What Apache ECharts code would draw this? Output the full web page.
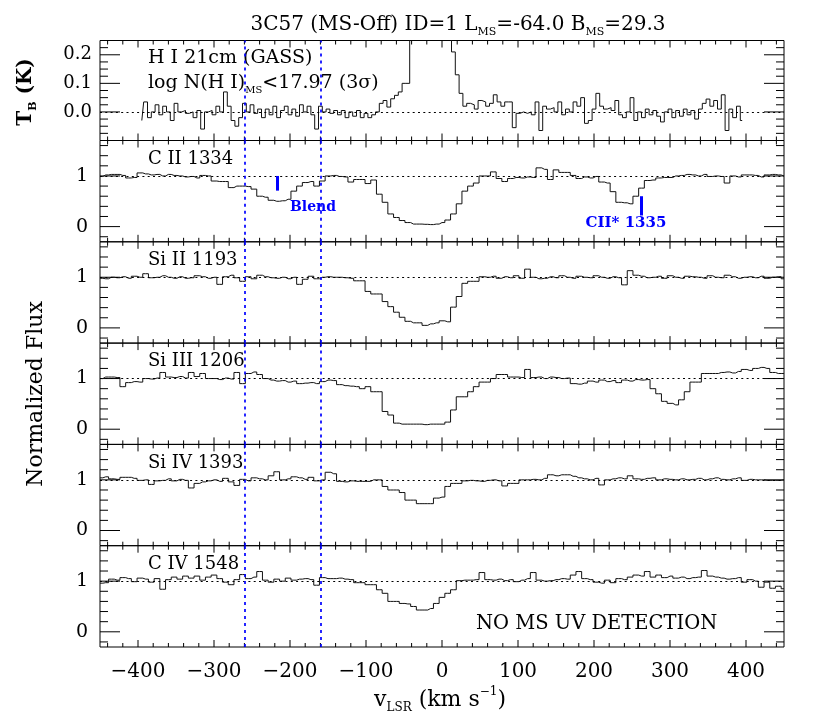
<!DOCTYPE html>
<html>
<head>
<meta charset="utf-8">
<script src="https://cdn.jsdelivr.net/npm/echarts@6/dist/echarts.min.js"></script>
<style>
  html, body { margin: 0; padding: 0; background: #fff; }
  #main { width: 830px; height: 727px; }
</style>
</head>
<body>
<div id="main"></div>
<script>
// ---- data ----
// HI 21cm brightness temperature (K), 5 km/s channels from -395 to 395
var hiStart = -395, hiStep = 5;
var hiTemp = [
  -0.03,0.035,-0.02,0.0,0.025,-0.01,0.02,0.0,-0.03,0.03, 0.0,0.005,-0.005,0.0,-0.02,0.005,-0.06,0.0,0.005,-0.01,
  0.02,0.0,0.07,0.02,-0.03,-0.05,-0.02,0.03,0.0,0.025, -0.005,0.01,-0.02,0.01,-0.01,0.02,-0.02,0.005,0.02,-0.01,
  0.01,-0.015,0.025,0.0,0.02,-0.01,-0.06,0.02,0.0,0.01, -0.005,0.005,-0.01,0.005,-0.02,0.0,-0.015,0.005,-0.02,-0.005,
  -0.02,-0.01,0.0,0.03,0.04,0.017,0.046,0.058,0.07,0.1, 0.1,0.45,0.8,1.2,1.5,1.7,1.8,1.6,1.3,1.0,
  0.7,0.4,0.21,0.13,0.065,0.02,0.03,0.025,0.01,0.04, 0.035,0.02,0.03,0.06,0.035,0.02,0.035,0.035,-0.055,-0.005,
  0.0,-0.005,0.0,-0.01,0.035,-0.065,0.02,0.01,0.015,0.0, 0.035,-0.01,0.01,0.0,0.035,0.02,0.05,-0.04,-0.03,0.01,
  0.065,0.02,0.01,0.015,0.005,0.04,-0.01,-0.02,0.0,0.05, -0.03,0.0,-0.02,0.01,-0.01,0.005,-0.015,-0.035,0.0,0.01,
  -0.02,0.005,-0.015,0.01,-0.01,0.005,-0.025,0.01,0.03,0.045, 0.02,0.04,0.01,0.06,-0.065,0.01,-0.02,0.02,-0.03
];

// UV normalized flux, 7.5 km/s pixels from -450 to 450
var uvStart = -450, uvStep = 7.5;
var fluxCII = [
  0.99,1.02,1.03,1.03,1.01,0.96,0.97,1.06,1.04,1.02, 1.03,1.0,1.03,1.01,1.0,0.98,0.99,0.96,1.01,1.0,
  0.90,0.89,0.89,0.77,0.80,0.80,0.79,0.74,0.60,0.58, 0.52,0.50,0.51,0.54,0.70,0.80,0.87,0.89,0.80,0.90,
  1.0,1.01,0.99,0.98,0.88,0.93,0.93,0.85,0.92,0.64, 0.48,0.25,0.18,0.12,0.08,0.05,0.05,0.045,0.04,0.05,
  0.08,0.13,0.25,0.45,0.7,0.8,0.86,1.0,1.0,1.08, 0.95,0.89,0.95,0.97,0.96,0.98,0.97,1.16,1.13,0.93,
  1.12,1.07,1.07,1.01,0.95,0.98,0.96,0.99,0.88,0.86, 0.69,0.48,0.47,0.45,0.60,0.76,0.91,0.92,0.96,0.97,
  0.97,1.0,1.01,1.03,1.02,1.0,1.03,0.99,1.0,0.99, 0.86,1.0,0.98,1.02,1.02,1.01,0.98,1.02,1.03,1.02, 1.0
];
var fluxSiII = [
  0.98,0.97,1.0,0.99,1.01,0.98,1.02,1.0,1.07,0.99, 1.0,1.03,1.0,0.98,1.01,0.98,0.99,1.03,1.01,0.98,
  1.0,0.86,1.01,1.04,0.99,0.92,1.01,0.97,1.04,1.01, 0.99,0.98,1.0,0.97,1.0,0.86,0.96,1.02,0.97,1.0,
  1.01,1.0,1.0,0.99,0.98,0.93,0.93,0.72,0.67,0.67, 0.52,0.42,0.31,0.21,0.13,0.1,0.1,0.05,0.08,0.1,
  0.14,0.12,0.41,0.62,0.88,0.92,0.92,1.01,1.0,1.02, 0.98,1.01,0.99,1.03,0.98,1.16,1.0,0.97,0.98,1.01,
  0.99,1.03,1.0,0.98,1.02,1.0,0.99,1.03,1.0,0.98, 1.01,0.99,0.85,1.13,1.04,1.02,0.99,1.0,1.02,0.98,
  1.03,1.0,0.98,1.02,1.01,1.0,0.98,1.03,1.0,0.99, 1.04,1.01,0.98,1.0,1.01,0.99,1.02,0.98,1.0,1.01, 0.97
];
var fluxSiIII = [
  1.0,1.03,1.03,1.02,0.84,0.92,0.94,0.93,1.0,0.99, 1.01,1.12,1.03,1.02,1.04,1.01,1.12,1.04,1.1,1.0,
  1.0,0.98,1.01,0.99,1.12,0.9,1.1,1.13,1.08,1.0, 0.97,0.95,0.96,0.93,0.95,0.9,0.91,0.92,0.9,0.94,
  0.97,0.96,0.88,0.86,0.85,0.84,0.8,0.84,0.74,0.74, 0.35,0.28,0.12,0.1,0.1,0.1,0.1,0.09,0.1,0.1,
  0.1,0.14,0.38,0.64,0.64,0.74,0.84,0.93,0.93,1.0, 1.08,1.08,1.03,1.03,1.02,1.18,1.02,1.03,1.0,1.03,
  1.02,1.0,1.01,0.9,0.89,0.91,0.95,0.93,0.97,0.94, 0.96,0.92,0.97,0.95,0.98,0.97,0.98,0.8,0.7,0.55,
  0.51,0.48,0.58,0.74,0.93,0.93,1.1,1.1,1.1,1.12, 1.13,1.11,1.14,1.18,1.16,1.2,1.22,1.2,1.12,1.1, 1.1
];
var fluxSiIV = [
  1.04,1.06,1.02,1.01,1.05,1.05,1.03,0.99,1.0,0.91, 0.98,0.99,1.02,0.98,1.01,0.99,0.84,0.93,0.96,0.98,
  1.0,0.97,1.03,0.96,0.89,1.01,0.98,1.04,1.02,1.0, 1.08,1.16,1.0,1.02,1.06,1.04,1.01,1.05,0.98,1.0,
  1.15,1.12,0.97,0.96,0.98,0.97,0.97,0.97,1.0,1.0, 0.87,0.8,0.8,0.75,0.6,0.6,0.53,0.53,0.53,0.64,
  0.66,0.87,0.93,0.93,0.98,0.99,0.98,0.97,0.99,1.0, 0.98,0.88,0.93,0.93,1.0,1.0,1.01,1.0,1.03,1.1,
  1.08,1.1,1.1,1.07,1.04,1.02,1.0,1.03,0.9,1.0, 1.02,1.04,1.02,1.08,1.02,1.01,1.03,1.04,1.0,1.02,
  1.01,1.0,1.02,1.0,1.01,1.03,1.0,1.02,1.04,1.01, 1.0,1.02,1.04,0.99,1.01,1.0,1.0,0.99,0.99,0.99, 1.0
];
var fluxCIV = [
  0.96,0.97,1.04,1.02,1.07,1.05,0.99,1.06,1.04,0.98, 1.05,0.84,1.03,1.08,1.04,1.1,1.06,1.1,1.02,1.08,
  1.12,1.05,0.98,0.93,1.03,1.13,1.05,1.08,1.19,1.02, 0.98,1.04,1.0,1.06,1.02,1.04,1.05,1.03,0.92,1.07,
  1.05,1.05,1.06,1.04,1.03,0.97,0.97,0.93,0.93,0.83, 0.76,0.6,0.6,0.56,0.55,0.5,0.43,0.43,0.46,0.56,
  0.68,0.76,0.83,1.01,1.02,1.02,1.03,1.17,1.03,1.02, 1.04,1.01,1.03,0.99,1.02,1.05,1.17,1.02,1.0,1.01,
  1.03,1.05,1.04,1.12,1.19,1.05,1.03,0.98,0.96,1.02, 0.97,1.05,1.03,1.08,1.12,1.1,1.19,1.08,1.12,1.07,
  1.1,1.06,1.08,1.05,1.07,1.08,1.21,1.1,1.08,1.06, 1.04,1.05,1.07,0.98,1.03,1.0,0.88,0.98,0.86,0.9, 0.85
];

var ionNames = ["C II 1334", "Si II 1193", "Si III 1206", "Si IV 1393", "C IV 1548"];
var ionFlux = [fluxCII, fluxSiII, fluxSiIII, fluxSiIV, fluxCIV];
var msVelocities = [-260, -160];          // blue dotted lines
var xTickLabels = [-400, -300, -200, -100, 0, 100, 200, 300, 400];
var hiTickLabels = [0.0, 0.1, 0.2];
var fluxTickLabels = [0, 1];

var FF = '"DejaVu Serif", serif';
var X_MIN = -450, X_MAX = 450;

function pairs(start, step, vals) {
  var out = [];
  for (var i = 0; i < vals.length; i++) out.push([start + step * i, vals[i]]);
  return out;
}

// panel geometry
var panels = [{ top: 40.5, height: 100, yMin: -0.1, yMax: 0.25 }];
for (var k = 0; k < 5; k++) panels.push({ top: 140.5 + 101.3 * k, height: 101.3, yMin: -0.3, yMax: 1.7 });

// tick marks (drawn inward on all four sides)
function tickData(p, isHI) {
  var d = [];
  for (var v = -440; v <= 440; v += 20) d.push([0, v, v % 100 === 0 ? 1 : 0]);
  if (isHI) {
    for (var k = -3; k <= 9; k++) d.push([1, k * 0.025, k % 4 === 0 ? 1 : 0]);
  } else {
    for (var j = -1; j <= 8; j++) d.push([1, j * 0.2, (j === 0 || j === 5) ? 1 : 0]);
  }
  return d;
}

function tickRender(p) {
  return function (params, api) {
    var kind = api.value(0), v = api.value(1), major = api.value(2);
    var st = { stroke: '#000', lineWidth: 1 };
    var a, b, len;
    if (kind === 0) {
      a = api.coord([v, p.yMin]); b = api.coord([v, p.yMax]); len = major ? 7 : 4;
      return { type: 'group', children: [
        { type: 'line', shape: { x1: a[0], y1: a[1], x2: a[0], y2: a[1] - len }, style: st },
        { type: 'line', shape: { x1: b[0], y1: b[1], x2: b[0], y2: b[1] + len }, style: st }
      ]};
    }
    a = api.coord([X_MIN, v]); b = api.coord([X_MAX, v]); len = major ? 20 : 8;
    return { type: 'group', children: [
      { type: 'line', shape: { x1: a[0], y1: a[1], x2: a[0] + len, y2: a[1] }, style: st },
      { type: 'line', shape: { x1: b[0], y1: b[1], x2: b[0] - len, y2: b[1] }, style: st }
    ]};
  };
}

var grids = [], xAxes = [], yAxes = [], series = [];
var dotted = { color: '#000', width: 1, type: [2, 3.3] };
var blueDot = { color: '#0000ff', width: 1.7, type: [3, 4] };

panels.forEach(function (p, i) {
  var isHI = i === 0;
  grids.push({ left: 100, right: 46, top: p.top, height: p.height, show: true,
    borderColor: '#000', borderWidth: 1, backgroundColor: 'transparent' });
  xAxes.push({
    gridIndex: i, type: 'value', min: X_MIN, max: X_MAX, interval: 50,
    axisLine: { show: false }, axisTick: { show: false }, splitLine: { show: false },
    axisLabel: {
      show: i === panels.length - 1, margin: 15, color: '#000', fontFamily: FF, fontSize: 20,
      formatter: function (v) {
        if (xTickLabels.indexOf(v) < 0) return '';
        return v < 0 ? '\u2212' + (-v) : String(v);
      }
    }
  });
  yAxes.push({
    gridIndex: i, type: 'value', min: p.yMin, max: p.yMax, interval: isHI ? 0.05 : 0.1,
    axisLine: { show: false }, axisTick: { show: false }, splitLine: { show: false },
    axisLabel: {
      margin: isHI ? 8 : 12, color: '#000', fontFamily: FF, fontSize: isHI ? 18 : 19,
      showMinLabel: true, showMaxLabel: true,
      formatter: function (v) {
        var list = isHI ? hiTickLabels : fluxTickLabels;
        for (var n = 0; n < list.length; n++) {
          if (Math.abs(v - list[n]) < 1e-6) return isHI ? list[n].toFixed(1) : String(list[n]);
        }
        return '';
      }
    }
  });

  var mlData = [{ yAxis: isHI ? 0 : 1, lineStyle: dotted }];
  msVelocities.forEach(function (mv) { mlData.push({ xAxis: mv, lineStyle: blueDot }); });
  if (i === 1) {
    var bar = { color: '#0000ff', width: 3, type: 'solid' };
    mlData.push([{ coord: [-217, 0.71], lineStyle: bar }, { coord: [-217, 1.0], lineStyle: bar }]);
    mlData.push([{ coord: [262, 0.22], lineStyle: bar }, { coord: [262, 0.6], lineStyle: bar }]);
  }

  series.push({
    type: 'line', xAxisIndex: i, yAxisIndex: i, step: 'middle', symbol: 'none', clip: true,
    lineStyle: { color: '#111', width: 1 },
    data: isHI ? pairs(hiStart, hiStep, hiTemp) : pairs(uvStart, uvStep, ionFlux[i - 1]),
    markLine: { silent: true, symbol: ['none', 'none'], label: { show: false },
      animation: false, data: mlData }
  });
  series.push({
    type: 'custom', xAxisIndex: i, yAxisIndex: i, silent: true, clip: false,
    renderItem: tickRender(p), data: tickData(p, isHI)
  });
});

// ---- text with sub/superscripts ----
var ctx = document.createElement('canvas').getContext('2d');
function fontOf(size, weight) { return (weight || 'normal') + ' ' + size + 'px ' + FF; }
function textWidth(t, size, weight) { ctx.font = fontOf(size, weight); return ctx.measureText(t).width; }

function richLabel(parts, o) {
  var size = o.size, small = Math.round(size * 0.55), w = 0, kids = [];
  parts.forEach(function (pt) {
    var s = pt[1] === 'n' ? size : small;
    var dy = pt[1] === 'sub' ? size * 0.38 : (pt[1] === 'sup' ? -size * 0.38 : 0);
    kids.push({ type: 'text', x: w, y: dy, style: {
      text: pt[0], font: fontOf(s, o.weight), fill: o.color || '#000',
      align: 'left', verticalAlign: 'middle', textAlign: 'left', textVerticalAlign: 'middle' } });
    w += textWidth(pt[0], s, o.weight);
  });
  var shift = o.align === 'center' ? -w / 2 : 0;
  kids.forEach(function (c) { c.x += shift; });
  return { type: 'group', x: o.x, y: o.y, rotation: o.rotation || 0, children: kids };
}

var graphics = [
  richLabel([['3C57 (MS-Off) ID=1 L', 'n'], ['MS', 'sub'], ['=-64.0 B', 'n'], ['MS', 'sub'], ['=29.3', 'n']],
    { x: 458, y: 25, size: 20, align: 'center' }),
  richLabel([['H I 21cm (GASS)', 'n']], { x: 148, y: 58, size: 19 }),
  richLabel([['log N(H I)', 'n'], ['MS', 'sub'], ['<17.97 (3\u03c3)', 'n']], { x: 148, y: 83, size: 19 }),
  richLabel([['Blend', 'n']], { x: 290, y: 207, size: 14, weight: 'bold', color: '#0000ff' }),
  richLabel([['CII* 1335', 'n']], { x: 626, y: 223, size: 15, weight: 'bold', color: '#0000ff', align: 'center' }),
  richLabel([['NO MS UV DETECTION', 'n']], { x: 476, y: 624, size: 19.5 }),
  richLabel([['v', 'n'], ['LSR', 'sub'], [' (km s', 'n'], ['\u22121', 'sup'], [')', 'n']],
    { x: 440, y: 700, size: 22, align: 'center' }),
  richLabel([['Normalized Flux', 'n']], { x: 36, y: 394, size: 22, align: 'center', rotation: Math.PI / 2 }),
  richLabel([['T', 'n'], ['B', 'sub'], [' (K)', 'n']],
    { x: 26, y: 92, size: 20, weight: 'bold', align: 'center', rotation: Math.PI / 2 })
];
ionNames.forEach(function (nm, k) {
  graphics.push(richLabel([[nm, 'n']], { x: 148, y: panels[k + 1].top + 18.5, size: 18 }));
});

var chart = echarts.init(document.getElementById('main'), null, { renderer: 'canvas' });
chart.setOption({
  animation: false,
  backgroundColor: '#fff',
  grid: grids,
  xAxis: xAxes,
  yAxis: yAxes,
  series: series,
  graphic: graphics
});
</script>
</body>
</html>
